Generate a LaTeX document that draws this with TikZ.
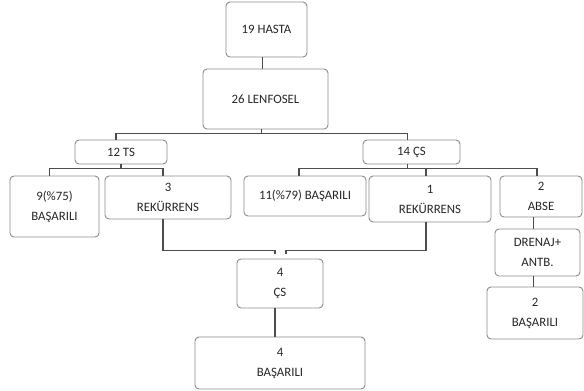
\documentclass[tikz,border=0pt]{standalone}
\usepackage{fontspec}
\setmainfont{Carlito}
\usepackage{tikz}
\usetikzlibrary{positioning}
\definecolor{boxgray}{HTML}{8C8C8C}
\definecolor{linegray}{HTML}{4D4D4D}
\definecolor{textgray}{HTML}{262626}

\begin{document}
\begin{tikzpicture}[x=1pt,y=-1pt,
    box/.style={draw=boxgray,line width=0.9pt,rounded corners=4pt,align=center,
      inner sep=0pt,text=textgray,font=\fontsize{12.8}{20}\selectfont},
    conn/.style={draw=linegray,line width=1.1pt}]
        \useasboundingbox (0,0) rectangle (584,391);
        \node[box,minimum width=81pt,minimum height=55pt] (hasta) at (266.5,29.5) {19 HASTA};
        \node[box,minimum width=125pt,minimum height=60pt] (lenf) at (265.5,99) {26 LENFOSEL};
        \node[box,minimum width=92pt,minimum height=24pt] (ts) at (121,152) {12 TS};
        \node[box,minimum width=97pt,minimum height=24pt] (cs) at (411.5,152) {14 ÇS};
        \node[box,minimum width=89pt,minimum height=61pt] (basl) at (54.5,206.5) {9(\%75)\\BAŞARILI};
        \node[box,minimum width=126pt,minimum height=43pt] (rekl) at (168,197.5) {3\\REKÜRRENS};
        \node[box,minimum width=122pt,minimum height=40pt] (basm) at (305,196) {11(\%79) BAŞARILI};
        \node[box,minimum width=122pt,minimum height=46pt] (rekr) at (430,199) {1\\REKÜRRENS};
        \node[box,minimum width=82pt,minimum height=41pt] (abse) at (541,196.5) {2\\ABSE};
        \node[box,minimum width=85pt,minimum height=47pt] (dren) at (537.5,252.5) {DRENAJ+\\ANTB.};
        \node[box,minimum width=96pt,minimum height=52pt] (bas2) at (535,313) {2\\BAŞARILI};
        \node[box,minimum width=86pt,minimum height=49pt] (cs4) at (280,283.5) {4\\ÇS};
        \node[box,minimum width=170pt,minimum height=52pt] (bas4) at (280,363) {4\\BAŞARILI};

        \draw[conn] ([xshift=-4pt]hasta.south) -- ([xshift=-4pt]hasta.south |- lenf.north);
        \draw[conn] ([xshift=-4pt]lenf.south) -- ++(0,4) coordinate (lbus);
        \draw[conn] ([xshift=-5pt]ts.north) |- (lbus) -| ([xshift=-4pt]cs.north);
        \draw[conn] (ts.south) -- ++(0,4) coordinate (tbus);
        \draw[conn] ([xshift=-5pt]basl.north) |- (tbus) -| ([xshift=-5pt]rekl.north);
        \draw[conn] ([xshift=-4pt]cs.south) -- ++(0,4) coordinate (cbus);
        \draw[conn] ([xshift=-6pt]basm.north) |- (cbus) -| ([xshift=-4pt]abse.north);
        \draw[conn] ([xshift=-4pt]rekr.north) -- ([xshift=-4pt]rekr.north |- cbus);
        \draw[conn] ([xshift=-5pt]rekl.south) |- ([xshift=-5pt,yshift=8pt]cs4.north) -- ++(0,3);
        \draw[conn] ([xshift=-4pt]rekr.south) |- ([xshift=6pt,yshift=8pt]cs4.north) -- ++(0,3);
        \draw[conn] ([xshift=-5pt]cs4.south) -- ([xshift=-5pt]cs4.south |- bas4.north);
        \draw[conn] ([xshift=-4pt]dren.north) -- ([xshift=-4pt]dren.north |- abse.south);
        \draw[conn] ([xshift=-4pt]dren.south) -- ([xshift=-4pt]dren.south |- bas2.north);
      \end{tikzpicture}
\end{document}
